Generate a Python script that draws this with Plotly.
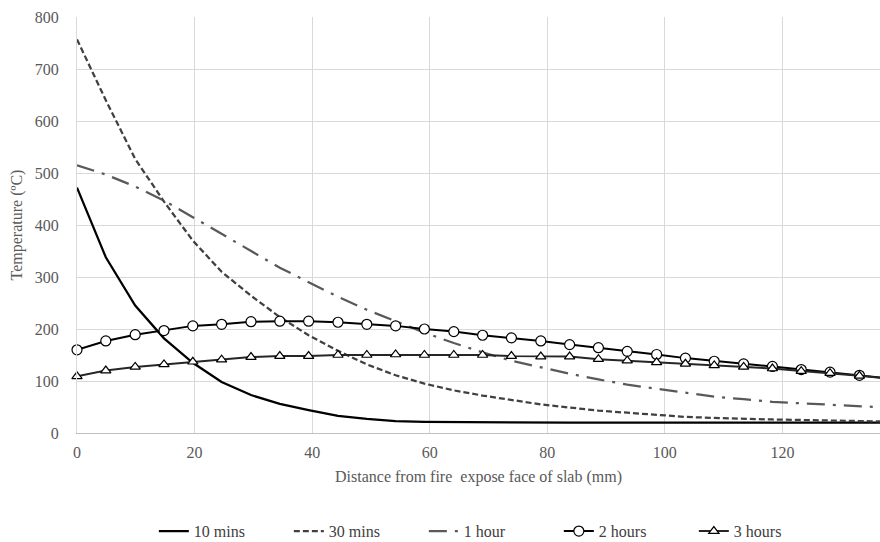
import plotly.graph_objects as go

# Distance from fire-exposed face (mm)
distance = [0, 4.9, 9.9, 14.8, 19.7, 24.6, 29.6, 34.5, 39.4, 44.4, 49.3, 54.2, 59.1,
            64.1, 69.0, 73.9, 78.9, 83.8, 88.7, 93.6, 98.6, 103.5, 108.4, 113.4,
            118.3, 123.2, 128.1, 133.1, 138.0]

t_10min = [472, 338, 245, 182, 135, 98, 73, 56, 44, 33, 27, 23, 21.5,
           21, 20.5, 20, 20, 20, 20, 20, 20, 20, 20, 20,
           20, 20, 20, 20, 20]
t_30min = [757, 640, 527, 445, 370, 310, 264, 223, 188, 158, 132, 111, 95,
           82, 72, 63, 55, 49, 43, 39, 35, 31, 29, 27,
           26, 25, 24, 23, 22]
t_1h = [515, 497, 474, 447, 415, 383, 350, 318, 290, 262, 237, 215, 193,
        173, 155, 139, 126, 114, 103, 93, 85, 77, 70, 65,
        60, 57, 54, 51, 49]
t_2h = [160, 177, 189, 197, 206, 209, 214, 215, 215, 213, 209, 206, 200,
        195, 188, 183, 177, 170, 164, 157, 151, 144, 138, 133,
        128, 122, 117, 111, 105]
t_3h = [109, 120, 127, 132, 137, 141, 146, 148, 148, 150, 150, 151, 150,
        150, 150, 148, 147, 147, 142, 139, 136, 133, 130, 127,
        124, 119, 115, 110, 105]

series_names = ["10 mins", "30 mins", "1 hour", "2 hours", "3 hours"]
x_ticks = [0, 20, 40, 60, 80, 100, 120]
y_ticks = [0, 100, 200, 300, 400, 500, 600, 700, 800]

FONT = "Liberation Serif"
GREY_TXT = "#595959"

fig = go.Figure()
fig.add_trace(go.Scatter(x=distance, y=t_10min, name=series_names[0], mode="lines",
                         line=dict(color="#000000", width=2.25)))
fig.add_trace(go.Scatter(x=distance, y=t_30min, name=series_names[1], mode="lines",
                         line=dict(color="#404040", width=2.25, dash="6px,3px")))
fig.add_trace(go.Scatter(x=distance, y=t_1h, name=series_names[2], mode="lines",
                         line=dict(color="#595959", width=2.25, dash="18px,8px,3px,8px")))
fig.add_trace(go.Scatter(x=distance, y=t_2h, name=series_names[3], mode="lines+markers",
                         cliponaxis=False,
                         line=dict(color="#000000", width=2),
                         marker=dict(symbol="circle", size=10, color="#ffffff",
                                     line=dict(color="#000000", width=1.2))))
fig.add_trace(go.Scatter(x=distance, y=t_3h, name=series_names[4], mode="lines+markers",
                         cliponaxis=False,
                         line=dict(color="#262626", width=2),
                         marker=dict(symbol="triangle-up", size=9, color="#ffffff",
                                     line=dict(color="#000000", width=1.2))))

fig.update_layout(
    width=880, height=542,
    margin=dict(l=77, r=0, t=17, b=109, autoexpand=False),
    paper_bgcolor="#ffffff", plot_bgcolor="#ffffff",
    font=dict(family=FONT, size=16, color=GREY_TXT),
    showlegend=True,
    legend=dict(orientation="h", x=0.516, xanchor="center",
                y=0.02, yref="container", yanchor="middle",
                font=dict(family=FONT, size=16, color="#404040"),
                itemwidth=30, tracegroupgap=0, entrywidth=90),
)
fig.update_xaxes(
    range=[0, 136.6], tickvals=x_ticks, ticktext=[str(v) for v in x_ticks],
    showgrid=True, gridcolor="#d9d9d9", gridwidth=1,
    zeroline=False, showline=True, linecolor="#bfbfbf", linewidth=1,
    ticks="", ticklabelstandoff=5, tickfont=dict(family=FONT, size=16, color=GREY_TXT),
    title=dict(text="Distance from fire  expose face of slab (mm)",
               font=dict(family=FONT, size=16, color=GREY_TXT), standoff=10),
)
fig.update_yaxes(
    range=[0, 800], tickvals=y_ticks, ticktext=[str(v) for v in y_ticks],
    showgrid=True, gridcolor="#d9d9d9", gridwidth=1,
    zeroline=False, showline=True, linecolor="#d9d9d9", linewidth=1,
    ticks="", ticklabelstandoff=14, tickfont=dict(family=FONT, size=16, color=GREY_TXT),
    title=dict(text="Temperature (ºC)",
               font=dict(family=FONT, size=16, color=GREY_TXT), standoff=8),
)

fig.write_html("out.html")
